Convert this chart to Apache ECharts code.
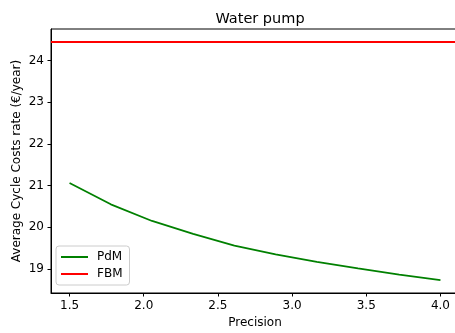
<!DOCTYPE html>
<html>
<head>
<meta charset="utf-8">
<script src="https://cdn.jsdelivr.net/npm/echarts@6/dist/echarts.min.js"></script>
<style>
  html, body { margin: 0; padding: 0; background: #fff; overflow: hidden; }
  #chart { width: 455px; height: 333px; }
</style>
</head>
<body>
<div id="chart"></div>
<script>
// Precision levels evaluated (10 evenly spaced steps from 1.5 to 4.0)
const precision = [1.5, 1.778, 2.056, 2.333, 2.611, 2.889, 3.167, 3.444, 3.722, 4.0];
// Predictive maintenance average cycle cost rate (€/year)
const pdmCost = [21.06, 20.55, 20.15, 19.84, 19.56, 19.35, 19.17, 19.01, 18.86, 18.73];
// Failure-based maintenance cost rate, constant over precision
const fbmCost = 24.46;

const xTicks = [1.5, 2.0, 2.5, 3.0, 3.5, 4.0];
const yTicks = [19, 20, 21, 22, 23, 24];

const font = 'DejaVu Sans';
const chart = echarts.init(document.getElementById('chart'), null, { renderer: 'canvas' });

chart.setOption({
  animation: false,
  backgroundColor: '#ffffff',
  textStyle: { fontFamily: font },
  title: {
    text: 'Water pump',
    left: 255,
    textAlign: 'center',
    top: 7,
    textStyle: { fontFamily: font, fontSize: 14.5, fontWeight: 'normal', color: '#000' }
  },
  // plot area runs slightly past the right edge of the canvas
  grid: {
    left: 51, top: 29, width: 408, height: 264,
    outerBoundsMode: 'none',
    containLabel: false,
    show: true, borderColor: '#000', borderWidth: 1, backgroundColor: 'transparent'
  },
  legend: {
    orient: 'vertical',
    left: 56, top: 246,
    padding: [5, 7, 5, 5],
    itemWidth: 27, itemHeight: 2, itemGap: 5,
    icon: 'rect',
    backgroundColor: 'rgba(255,255,255,0.8)',
    borderColor: '#cccccc', borderWidth: 1, borderRadius: 3,
    textStyle: { fontFamily: font, fontSize: 12, color: '#000', padding: [0, 0, 0, 4] },
    data: ['PdM', 'FBM']
  },
  xAxis: {
    type: 'value',
    min: 1.375, max: 4.125,
    name: 'Precision',
    nameLocation: 'middle',
    nameGap: 24,
    nameMoveOverlap: false,
    nameTextStyle: { fontFamily: font, fontSize: 12, color: '#000' },
    axisLine: { show: true, onZero: false, lineStyle: { color: '#000', width: 1 } },
    axisTick: { show: true, customValues: xTicks, length: 3.5, lineStyle: { color: '#000' } },
    axisLabel: {
      customValues: xTicks, margin: 7, fontFamily: font, fontSize: 12, color: '#000',
      formatter: v => v.toFixed(1)
    },
    splitLine: { show: false }
  },
  yAxis: {
    type: 'value',
    min: 18.42, max: 24.76,
    name: 'Average Cycle Costs rate (€/year)',
    nameLocation: 'middle',
    nameGap: 28,
    nameMoveOverlap: false,
    nameTextStyle: { fontFamily: font, fontSize: 12, color: '#000' },
    axisLine: { show: true, onZero: false, lineStyle: { color: '#000', width: 1 } },
    axisTick: { show: true, customValues: yTicks, length: 3.5, lineStyle: { color: '#000' } },
    axisLabel: {
      customValues: yTicks, margin: 7, fontFamily: font, fontSize: 12, color: '#000',
      formatter: v => String(Math.round(v))
    },
    splitLine: { show: false }
  },
  series: [
    {
      name: 'PdM',
      type: 'line',
      data: precision.map((p, i) => [p, pdmCost[i]]),
      showSymbol: false,
      color: '#008000',
      lineStyle: { color: '#008000', width: 1.8 }
    },
    {
      name: 'FBM',
      type: 'line',
      data: [],
      color: '#ff0000',
      lineStyle: { color: '#ff0000', width: 1.8 },
      markLine: {
        silent: true,
        symbol: 'none',
        label: { show: false },
        lineStyle: { color: '#ff0000', width: 1.8, type: 'solid' },
        data: [{ yAxis: fbmCost }]
      }
    }
  ]
});
</script>
</body>
</html>
